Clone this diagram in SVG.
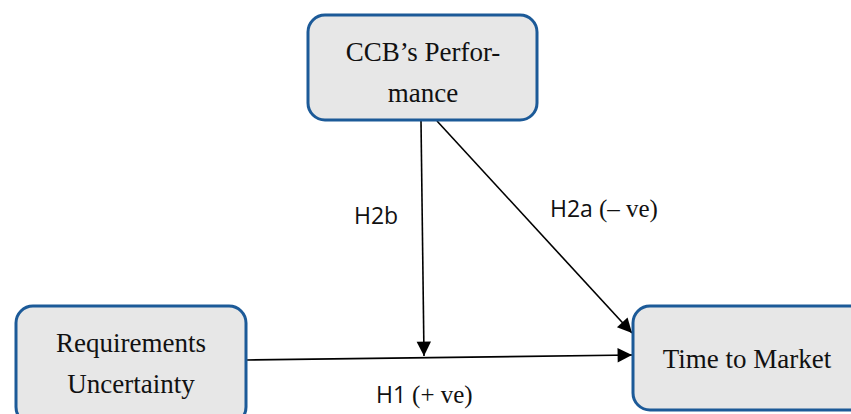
<svg xmlns="http://www.w3.org/2000/svg" width="851" height="414" viewBox="0 0 851 414">
  <style>
    .node rect { fill: #e7e7e7; stroke: #1c5a98; stroke-width: 3; }
    .node text { font-family: "Liberation Serif", "DejaVu Serif", serif; font-size: 27px; fill: #111; text-anchor: middle; }
    .edge { stroke: #000; stroke-width: 1.6; fill: none; marker-end: url(#arrow); }
    .lbl { font-family: "Open Sans", "Liberation Sans", sans-serif; font-size: 23px; fill: #111; }
    .ser { font-family: "Liberation Serif", "DejaVu Serif", serif; font-size: 25px; }
  </style>
  <defs>
    <marker id="arrow" viewBox="0 0 10 10" refX="10" refY="5" markerWidth="10" markerHeight="9" markerUnits="userSpaceOnUse" orient="auto" overflow="visible">
      <path d="M0,0 L10,5 L0,10 Z" fill="#000" transform="scale(1.6)" transform-origin="10 5"/>
    </marker>
  </defs>

  <g id="connectors">
    <line class="edge" x1="421" y1="121" x2="424" y2="356"/>
    <line class="edge" x1="437" y1="121" x2="632" y2="333"/>
    <line class="edge" x1="247" y1="360" x2="632" y2="355"/>
    <text class="lbl" x="354" y="224">H2b</text>
    <text class="lbl" x="550" y="217">H2a <tspan class="ser">(– ve)</tspan></text>
    <text class="lbl" x="376" y="403">H1 <tspan class="ser">(+ ve)</tspan></text>
  </g>

  <g id="ccb" class="node">
    <rect x="308" y="15" width="229" height="105" rx="17"/>
    <text x="423" y="61">CCB’s Perfor-</text>
    <text x="423" y="102">mance</text>
  </g>

  <g id="requirements" class="node">
    <rect x="16" y="306" width="230" height="118" rx="17"/>
    <text x="131" y="352">Requirements</text>
    <text x="131" y="393">Uncertainty</text>
  </g>

  <g id="market" class="node">
    <rect x="633" y="306" width="240" height="104" rx="17"/>
    <text x="747" y="368">Time to Market</text>
  </g>
</svg>
